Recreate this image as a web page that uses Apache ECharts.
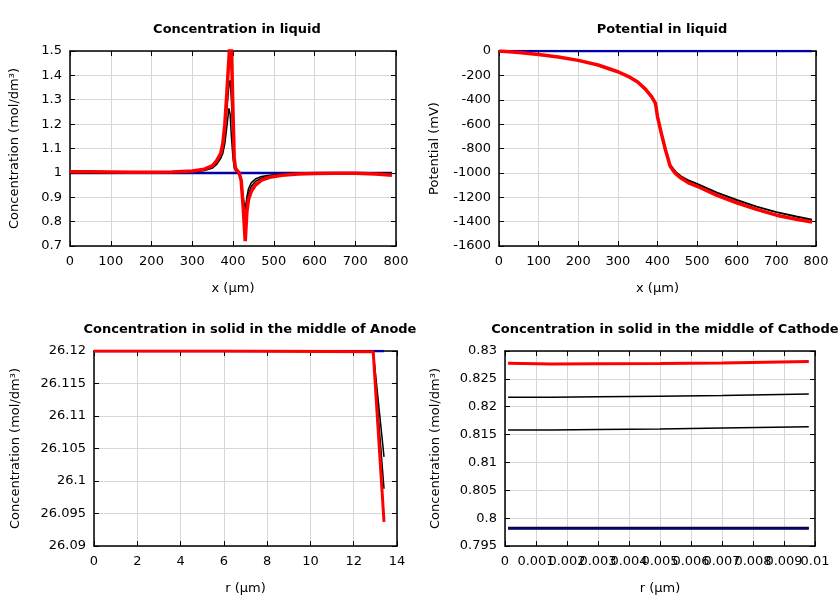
<!DOCTYPE html>
<html>
<head>
<meta charset="utf-8">
<script src="https://cdn.jsdelivr.net/npm/echarts@6/dist/echarts.min.js"></script>
<style>html,body{margin:0;padding:0;background:#fff}#c{width:840px;height:600px}</style>
</head>
<body>
<div id="c"></div>
<script>
// ---- Concentration in liquid ----
var xLiq = [0, 50, 100, 150, 200, 250, 300, 330, 350, 360, 370, 375, 380, 385, 390, 393, 396, 400, 403, 406, 410, 415, 420, 425, 430, 434, 438, 445, 455, 470, 490, 520, 560, 600, 650, 700, 750, 790];
var concRed = [1.005, 1.005, 1.004, 1.003, 1.003, 1.004, 1.008, 1.015, 1.03, 1.05, 1.08, 1.12, 1.2, 1.33, 1.47, 1.55, 1.52, 1.25, 1.06, 1.02, 1.01, 1.0, 0.97, 0.86, 0.72, 0.84, 0.89, 0.925, 0.95, 0.97, 0.982, 0.99, 0.995, 0.997, 0.998, 0.998, 0.995, 0.99];
var concBlack1 = [1.0, 1.0, 1.0, 1.0, 1.0, 1.001, 1.004, 1.01, 1.02, 1.035, 1.06, 1.08, 1.12, 1.19, 1.265, 1.24, 1.15, 1.06, 1.02, 1.01, 1.005, 0.995, 0.97, 0.9, 0.85, 0.9, 0.935, 0.96, 0.975, 0.985, 0.99, 0.995, 0.998, 0.999, 1.0, 1.0, 0.999, 0.998];
var concBlack2 = [1.002, 1.002, 1.002, 1.002, 1.002, 1.003, 1.006, 1.013, 1.025, 1.042, 1.07, 1.1, 1.16, 1.26, 1.36, 1.38, 1.3, 1.15, 1.04, 1.015, 1.007, 0.997, 0.97, 0.88, 0.79, 0.87, 0.915, 0.945, 0.965, 0.978, 0.986, 0.992, 0.996, 0.998, 0.999, 0.999, 0.997, 0.994];
var concBlueX = [0, 790];
var concBlue = [1.0, 1.0];

// ---- Potential in liquid ----
var xPot = [0, 50, 100, 150, 200, 250, 300, 330, 350, 370, 385, 395, 400, 410, 420, 432, 445, 460, 480, 500, 550, 600, 650, 700, 750, 790];
var potRed = [0, -12, -28, -50, -77, -115, -170, -215, -255, -315, -375, -430, -540, -680, -810, -945, -1005, -1045, -1085, -1110, -1185, -1245, -1300, -1347, -1380, -1403];
var potBlack = [0, -12, -28, -50, -77, -115, -170, -215, -255, -315, -375, -430, -540, -680, -810, -935, -990, -1030, -1065, -1090, -1162, -1223, -1277, -1322, -1358, -1384];
var potBlueX = [0, 790];
var potBlue = [0, 0];

// ---- Solid, anode ----
var rAnode = [0, 6, 12.9, 13.4];
var anodeBlue = [26.12, 26.12, 26.12, 26.12];
var anodeBlack1 = [26.12, 26.12, 26.12, 26.1037];
var anodeBlack2 = [26.12, 26.12, 26.12, 26.0988];
var anodeRed = [26.12, 26.12, 26.1199, 26.0937];

// ---- Solid, cathode ----
var rCath = [0.0001, 0.0015, 0.003, 0.005, 0.007, 0.0098];
var cathBlue = [0.7982, 0.7982, 0.7982, 0.7982, 0.7982, 0.7982];
var cathBlack1 = [0.8158, 0.8158, 0.8159, 0.816, 0.8162, 0.8164];
var cathBlack2 = [0.8217, 0.8217, 0.8218, 0.8219, 0.822, 0.8223];
var cathRed = [0.82778, 0.82768, 0.82772, 0.82776, 0.82785, 0.8281];

// ---- axes / ticks ----
var tlX = {min: 0, max: 800, interval: 100};
var tlY = {min: 0.7, max: 1.5, interval: 0.1};
var trX = {min: 0, max: 800, interval: 100};
var trY = {min: -1600, max: 0, interval: 200};
var blX = {min: 0, max: 14, interval: 2};
var blY = {min: 26.09, max: 26.12, interval: 0.005};
var brX = {min: 0, max: 0.01, interval: 0.001};
var brY = {min: 0.795, max: 0.83, interval: 0.005};

var titles = ['Concentration in liquid', 'Potential in liquid', 'Concentration in solid in the middle of Anode', 'Concentration in solid in the middle of Cathode'];
var xNames = ['x (µm)', 'x (µm)', 'r (µm)', 'r (µm)'];
var yNames = ['Concentration (mol/dm³)', 'Potential (mV)', 'Concentration (mol/dm³)', 'Concentration (mol/dm³)'];

var FONT = 'DejaVu Sans';
var FS = 13;
function fmt(v) { return String(parseFloat(v.toFixed(6))); }
function zip(xs, ys) { return xs.map(function (x, i) { return [x, ys[i]]; }); }
function isMax(v, ax) { return Math.abs(v - ax.max) < ax.interval * 1e-6; }

var grids = [
  {left: 70, top: 51, width: 326, height: 195},
  {left: 499, top: 51, width: 317, height: 195},
  {left: 94, top: 351, width: 303, height: 195},
  {left: 505, top: 351, width: 310, height: 195}
];
var xs = [tlX, trX, blX, brX];
var ys = [tlY, trY, blY, brY];
var yGaps = [49, 58, 72, 63];

var xAxes = [], yAxes = [];
for (var i = 0; i < 4; i++) {
  var common = {
    type: 'value',
    gridIndex: i,
    axisLine: {show: true, onZero: false, lineStyle: {color: '#000', width: 1.5}},
    axisTick: {show: true, inside: true, length: 5, lineStyle: {color: '#000', width: 1}}
  };
  var xf = fmt;
  if (i === 3) {
    // the max label of this axis is drawn by an extra axis so every label stays visible
    xf = function (v) { return isMax(v, brX) ? '' : fmt(v); };
  }
  xAxes.push(Object.assign({}, common, xs[i], {
    position: 'bottom',
    name: xNames[i], nameLocation: 'middle', nameGap: 36,
    nameTextStyle: {color: '#000', fontFamily: FONT, fontSize: FS},
    axisLabel: {color: '#000', fontFamily: FONT, fontSize: FS, margin: 9, formatter: xf, showMinLabel: true, showMaxLabel: true, hideOverlap: false},
    splitLine: {show: true, lineStyle: {color: '#d6d6d6', width: 1}}
  }));
  xAxes.push(Object.assign({}, common, xs[i], {
    position: 'top',
    axisLabel: {show: false},
    splitLine: {show: false}
  }));
  yAxes.push(Object.assign({}, common, ys[i], {
    position: 'left',
    name: yNames[i], nameLocation: 'middle', nameGap: yGaps[i],
    nameTextStyle: {color: '#000', fontFamily: FONT, fontSize: FS},
    axisLabel: {color: '#000', fontFamily: FONT, fontSize: FS, margin: 8, formatter: fmt, showMinLabel: true, showMaxLabel: true},
    splitLine: {show: true, lineStyle: {color: '#d6d6d6', width: 1}}
  }));
  yAxes.push(Object.assign({}, common, ys[i], {
    position: 'right',
    axisLabel: {show: false},
    splitLine: {show: false}
  }));
}
// extra bottom axis for the cathode plot: only its max label
xAxes.push(Object.assign({type: 'value', gridIndex: 3, position: 'bottom'}, brX, {
  axisLine: {show: false}, axisTick: {show: false}, splitLine: {show: false},
  axisLabel: {color: '#000', fontFamily: FONT, fontSize: FS, margin: 9, showMinLabel: true, showMaxLabel: true,
    formatter: function (v) { return isMax(v, brX) ? fmt(v) : ''; }}
}));

var BLUE = '#0000a8', RED = '#ff0000', BLACK = '#000000';
function line(gi, data, color, width) {
  return {
    type: 'line', xAxisIndex: gi * 2, yAxisIndex: gi * 2, data: data,
    showSymbol: false, symbol: 'none', animation: false, clip: true,
    lineStyle: {color: color, width: width}, z: 3
  };
}

var series = [
  line(0, zip(concBlueX, concBlue), BLUE, 2.5),
  line(0, zip(xLiq, concBlack2), BLACK, 1.5),
  line(0, zip(xLiq, concBlack1), BLACK, 1.5),
  line(0, zip(xLiq, concRed), RED, 3.5),
  line(1, zip(potBlueX, potBlue), BLUE, 2.5),
  line(1, zip(xPot, potBlack), BLACK, 2),
  line(1, zip(xPot, potRed), RED, 3.5),
  line(2, zip(rAnode, anodeBlue), BLUE, 2.5),
  line(2, zip(rAnode, anodeBlack1), BLACK, 1.5),
  line(2, zip(rAnode, anodeBlack2), BLACK, 1.5),
  line(2, zip(rAnode, anodeRed), RED, 3),
  line(3, zip(rCath, cathBlue), BLACK, 3),
  line(3, zip(rCath, cathBlue), BLUE, 1.5),
  line(3, zip(rCath, cathBlack1), BLACK, 1.5),
  line(3, zip(rCath, cathBlack2), BLACK, 1.5),
  line(3, zip(rCath, cathRed), RED, 3)
];

var titleCenters = [[232, 18], [657, 18], [245, 318], [660, 318]];
var titleOpts = titles.map(function (t, i) {
  return {
    text: t, left: titleCenters[i][0], top: titleCenters[i][1], textAlign: 'center',
    textStyle: {fontFamily: FONT, fontSize: FS, fontWeight: 'bold', color: '#000'}
  };
});

var chart = echarts.init(document.getElementById('c'), null, {renderer: 'canvas'});
chart.setOption({
  backgroundColor: '#fff',
  animation: false,
  title: titleOpts,
  grid: grids.map(function (g) { return Object.assign({containLabel: false, outerBoundsMode: 'none'}, g); }),
  xAxis: xAxes,
  yAxis: yAxes,
  series: series
});
</script>
</body>
</html>
